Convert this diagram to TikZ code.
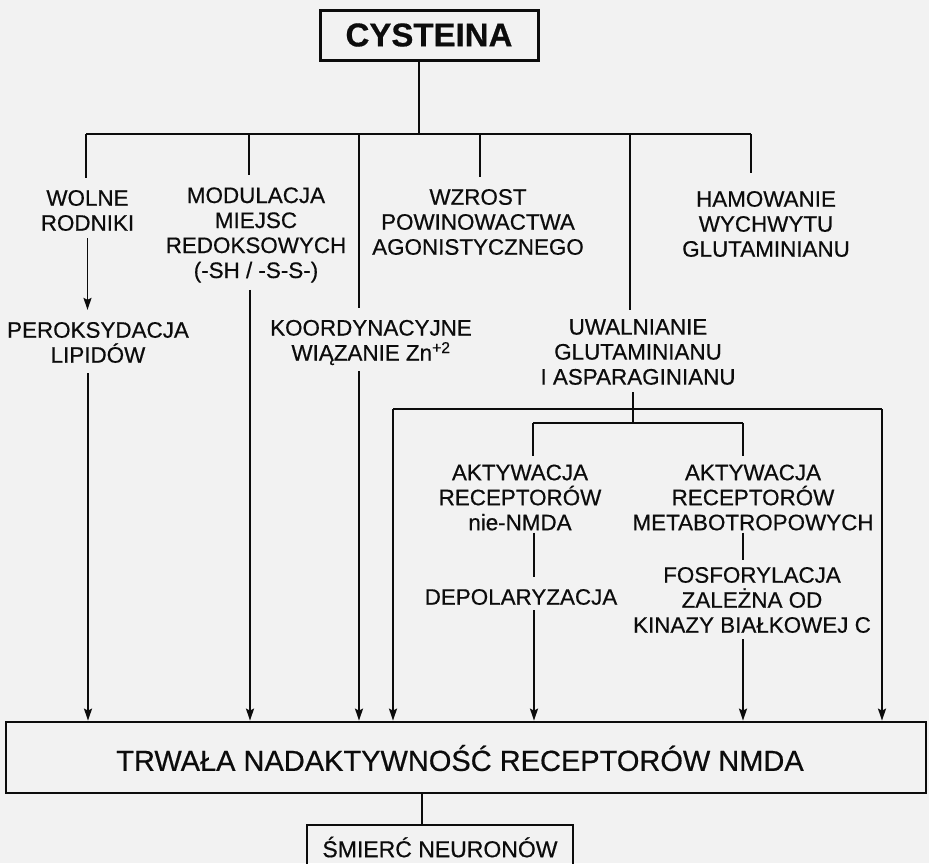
\documentclass[tikz,border=0pt]{standalone}
\usepackage{fontspec}
\setmainfont{Liberation Sans}[FakeBold=0.5]
\usetikzlibrary{positioning, arrows.meta}
\definecolor{ScanGray}{RGB}{242,242,242}
\definecolor{Ink}{RGB}{12,12,12}

\begin{document}
\begin{tikzpicture}[x=1pt, y=-1pt,
    box/.style={rectangle, draw=Ink, line width=2.6pt, inner sep=0pt, text=Ink},
    lbl/.style={align=center, inner sep=0pt, text=Ink,
                font=\fontsize{22.4}{25}\selectfont},
    wire/.style={draw=Ink, line width=1.7pt},
    arr/.style={wire, -{Stealth[length=12pt, width=8pt, inset=2pt]}}
  ]
  \clip (0,0) rectangle (929,863);
  \fill[ScanGray] (0,0) rectangle (929,863);

  % Top box
  \node[box, line width=3pt, minimum width=218pt, minimum height=50pt,
        font=\fontsize{33}{33}\selectfont\bfseries] (cyst) at (429,35) {CYSTEINA};

  % First row
  \node[lbl] (woln)   at (87.5,210.5) {WOLNE\\RODNIKI};
  \node[lbl] (modul)  at (256,235)    {MODULACJA\\MIEJSC\\REDOKSOWYCH\\(-SH / -S-S-)};
  \node[lbl] (wzrost) at (478,222)    {WZROST\\POWINOWACTWA\\AGONISTYCZNEGO};
  \node[lbl] (hamow)  at (766,224)    {HAMOWANIE\\WYCHWYTU\\GLUTAMINIANU};

  % Second row
  \node[lbl] (perok) at (98,342.5)  {PEROKSYDACJA\\LIPIDÓW};
  \node[lbl] (koord) at (371,342.5) {KOORDYNACYJNE\\WIĄZANIE Zn\textsuperscript{+2}};
  \node[lbl] (uwal)  at (638,352)   {UWALNIANIE\\GLUTAMINIANU\\I ASPARAGINIANU};

  % Receptors
  \node[lbl] (aktyw1) at (520,497.5) {AKTYWACJA\\RECEPTORÓW\\nie-NMDA};
  \node[lbl] (aktyw2) at (753,497.5) {AKTYWACJA\\RECEPTORÓW\\METABOTROPOWYCH};
  \node[lbl] (depol)  at (521,597)   {DEPOLARYZACJA};
  \node[lbl] (fosfor) at (752,600)   {FOSFORYLACJA\\ZALEŻNA OD\\KINAZY BIAŁKOWEJ C};

  % Bottom boxes
  \node[box, line width=2.8pt, minimum width=920pt, minimum height=71pt] (trwala) at (466,757.5) {};
  \node[lbl, font=\fontsize{29}{29}\selectfont] (trwtxt) at (460,758)
        {TRWAŁA NADAKTYWNOŚĆ RECEPTORÓW NMDA};
  \node[box, minimum width=266pt, minimum height=44pt,
        font=\fontsize{23}{23}\selectfont] (smierc) at (440,847) {ŚMIERĆ NEURONÓW};

  % Bus from CYSTEINA
  \coordinate (bus) at (419,134);
  \coordinate (tw) at (86,134);
  \coordinate (tm) at (249,134);
  \coordinate (tk) at (359,134);
  \coordinate (tz) at (480,134);
  \coordinate (tu) at (630,134);
  \coordinate (th) at (751,134);
  \draw[wire] (cyst.south -| bus) -- (bus);
  \draw[wire] (tw) -- (th);
  \draw[wire, shorten >=12pt] (tw) -- (tw |- woln.north);
  \draw[wire, shorten >=12pt] (tm) -- (tm |- modul.north);
  \draw[wire, shorten >=12pt] (tz) -- (tz |- wzrost.north);
  \draw[wire, shorten >=18pt] (th) -- (th |- hamow.north);
  \draw[wire, shorten >=12pt] (tk) -- (tk |- koord.north);
  \draw[wire, shorten >=9pt]  (tu) -- (tu |- uwal.north);

  % Left side
  \draw[arr, shorten <=7pt, shorten >=12pt] (woln.south) -- (woln.south |- perok.north);
  \draw[arr, shorten <=10pt] ([xshift=-10pt]perok.south) -- ([xshift=-10pt]perok.south |- trwala.north);
  \draw[arr, shorten <=7pt] ([xshift=-6pt]modul.south) -- ([xshift=-6pt]modul.south |- trwala.north);
  \draw[arr, shorten <=6pt] ([xshift=-12pt]koord.south) -- ([xshift=-12pt]koord.south |- trwala.north);

  % Glutamate release
  \coordinate (ul) at (393,409);
  \coordinate (ur) at (882,409);
  \coordinate (ja) at (533,423);
  \coordinate (jb) at (743,423);
  \draw[wire, shorten <=7pt] ([xshift=-5pt]uwal.south) -- ([xshift=-5pt]uwal.south |- ja);
  \draw[wire] (ul) -- (ur);
  \draw[arr] (ul) -- (ul |- trwala.north);
  \draw[arr] (ur) -- (ur |- trwala.north);
  \draw[wire] (ja) -- (jb);
  \draw[wire, shorten >=8pt] (ja) -- (ja |- aktyw1.north);
  \draw[wire, shorten >=8pt] (jb) -- (jb |- aktyw2.north);

  % Receptor chains
  \draw[wire, shorten <=2pt, shorten >=12pt] ([xshift=14pt]aktyw1.south) -- ([xshift=14pt]aktyw1.south |- depol.north);
  \draw[arr, shorten <=5pt] ([xshift=13pt]depol.south) -- ([xshift=13pt]depol.south |- trwala.north);
  \draw[wire, shorten <=2pt, shorten >=7pt] ([xshift=-10pt]aktyw2.south) -- ([xshift=-10pt]aktyw2.south |- fosfor.north);
  \draw[arr, shorten <=6pt] ([xshift=-9pt]fosfor.south) -- ([xshift=-9pt]fosfor.south |- trwala.north);

  % Outcome
  \draw[wire] ([xshift=-18pt]smierc.north) -- ([xshift=-18pt]smierc.north |- trwala.south);
\end{tikzpicture}
\end{document}
